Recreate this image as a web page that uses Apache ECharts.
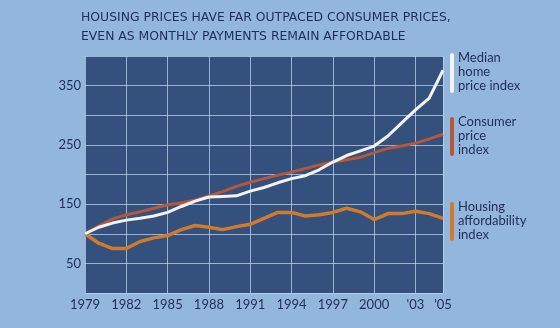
<!DOCTYPE html>
<html>
<head>
<meta charset="utf-8">
<script src="https://cdn.jsdelivr.net/npm/echarts@6/dist/echarts.min.js"></script>
<style>
html,body{margin:0;padding:0;background:#93b6dc;}
#c{width:560px;height:328px;}
</style>
</head>
<body>
<div id="c"></div>
<script>
var years = [1979,1980,1981,1982,1983,1984,1985,1986,1987,1988,1989,1990,1991,1992,1993,1994,1995,1996,1997,1998,1999,2000,2001,2002,2003,2004,2005];
var homePrice = [100,111,118,123,126,130,136,146,155,162,163,164,172,178,186,193,198,208,221,232,240,248,265,287,309,329,376];
var cpi = [100,113,125,132,137,143,149,152,157,164,171,180,187,193,199,204,210,216,221,225,229,237,244,248,253,260,268];
var affordability = [100,84,75,75,87,93,97,107,114,111,107,112,116,126,136,136,130,132,136,143,137,124,134,134,138,134,126];
var xTickLabels = {1979:'1979',1982:'1982',1985:'1985',1988:'1988',1991:'1991',1994:'1994',1997:'1997',2000:'2000',2003:"'03",2005:"'05"};
var yTickLabels = {50:'50',150:'150',250:'250',350:'350'};
var seriesNames = ['Median\nhome\nprice index','Consumer\nprice\nindex','Housing\naffordability\nindex'];

var baseYear = years[0];
function pairs(vals){ return years.map(function(y,i){ return [y-baseYear, vals[i]]; }); }

var textColor = '#1f2e55';
var font = 'Lato';
var colors = ['#f3f3f1','#b5573a','#d27a2b'];

var chart = echarts.init(document.getElementById('c'));
chart.setOption({
  backgroundColor: '#93b6dc',
  animation: false,
  title: {
    text: 'HOUSING PRICES HAVE FAR OUTPACED CONSUMER PRICES,\nEVEN AS MONTHLY PAYMENTS REMAIN AFFORDABLE',
    left: 76, top: 3,
    textStyle: {color: textColor, fontFamily: 'DejaVu Sans', fontSize: 12.4, fontWeight: 'normal', lineHeight: 19}
  },
  grid: {left: 85, top: 56, right: 117, bottom: 35, show: true, backgroundColor: '#34507d', borderWidth: 0, containLabel: false},
  xAxis: {
    type: 'value', min: 0, max: years[years.length-1]-baseYear, interval: 3,
    axisLine: {show: false}, axisTick: {show: false},
    splitLine: {show: true, lineStyle: {color: 'rgba(190,212,240,0.75)', width: 1}},
    axisLabel: {color: textColor, fontFamily: font, fontSize: 13, margin: 5,
      formatter: function(v){ return xTickLabels[v+baseYear] || ''; }}
  },
  yAxis: {
    type: 'value', min: 0, max: 400, interval: 50,
    axisLine: {show: false}, axisTick: {show: false},
    splitLine: {show: true, lineStyle: {color: 'rgba(190,212,240,0.75)', width: 1}},
    axisLabel: {color: textColor, fontFamily: font, fontSize: 13, margin: 4,
      formatter: function(v){ return yTickLabels[v] || ''; }}
  },
  series: [
    {name: seriesNames[2], type: 'line', data: pairs(affordability), symbol: 'none', lineStyle: {color: colors[2], width: 3.5}, z: 3},
    {name: seriesNames[1], type: 'line', data: pairs(cpi), symbol: 'none', lineStyle: {color: colors[1], width: 3}, z: 4},
    {name: seriesNames[0], type: 'line', data: pairs(homePrice), symbol: 'none', lineStyle: {color: colors[0], width: 3}, z: 5}
  ],
  graphic: [
    {type: 'rect', left: 450, top: 53, shape: {width: 4, height: 40, r: 2}, style: {fill: colors[0]}},
    {type: 'text', left: 458, top: 51, style: {text: seriesNames[0], fill: textColor, font: '13px Lato', lineHeight: 14}},
    {type: 'rect', left: 450, top: 117, shape: {width: 4, height: 39, r: 2}, style: {fill: colors[1]}},
    {type: 'text', left: 458, top: 115, style: {text: seriesNames[1], fill: textColor, font: '13px Lato', lineHeight: 14}},
    {type: 'rect', left: 450, top: 202, shape: {width: 4, height: 39, r: 2}, style: {fill: colors[2]}},
    {type: 'text', left: 458, top: 200, style: {text: seriesNames[2], fill: textColor, font: '13px Lato', lineHeight: 14}}
  ]
});
</script>
</body>
</html>
